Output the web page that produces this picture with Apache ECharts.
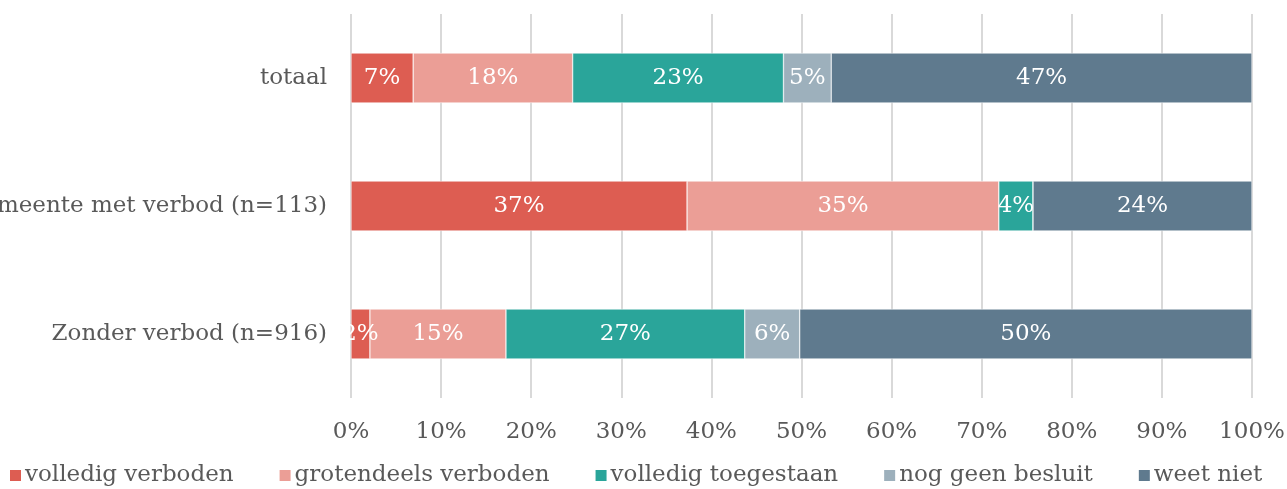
<!DOCTYPE html>
<html><head><meta charset="utf-8">
<script src="https://cdn.jsdelivr.net/npm/echarts@6/dist/echarts.min.js"></script>
<style>html,body{margin:0;padding:0;background:#fff}#c{width:1287px;height:489px}</style>
</head><body><div id="c"></div>
<script>
const categories = ['Zonder verbod (n=916)', 'Gemeente met verbod (n=113)', 'totaal'];
const seriesNames = ['volledig verboden', 'grotendeels verboden', 'volledig toegestaan', 'nog geen besluit', 'weet niet'];
const volledigVerboden = [2.1, 37.3, 6.9];
const grotendeelsVerboden = [15.1, 34.6, 17.7];
const volledigToegestaan = [26.5, 3.8, 23.4];
const nogGeenBesluit = [6.1, 0, 5.3];
const weetNiet = [50.2, 24.3, 46.7];
const colors = ['#dd5d52', '#eb9e96', '#2aa59a', '#9db0bc', '#5f7a8e'];
const tickLabels = ['0%','10%','20%','30%','40%','50%','60%','70%','80%','90%','100%'];

const FONT = 'DejaVu Serif';
const FS = 23;
const values = [volledigVerboden, grotendeelsVerboden, volledigToegestaan, nogGeenBesluit, weetNiet];
const chart = echarts.init(document.getElementById('c'));
chart.setOption({
  animation: false,
  color: colors,
  textStyle: { fontFamily: FONT },
  grid: { left: 351, right: 35, top: 14, bottom: 91, containLabel: false, outerBoundsMode: 'none' },
  xAxis: {
    type: 'value', min: 0, max: 100, interval: 10,
    axisLine: { show: false }, axisTick: { show: false },
    splitLine: { lineStyle: { color: '#d9d9d9', width: 2 } },
    axisLabel: { color: '#595959', fontSize: FS, fontFamily: FONT, margin: 23,
      formatter: v => tickLabels[Math.round(v / 10)] }
  },
  yAxis: {
    type: 'category', data: categories,
    axisLine: { show: false }, axisTick: { show: false },
    axisLabel: { color: '#595959', fontSize: FS, fontFamily: FONT, margin: 24 }
  },
  legend: {
    left: 3, top: 459, itemWidth: 13, itemHeight: 13, itemGap: 44, icon: 'rect',
    textStyle: { color: '#595959', fontSize: FS, fontFamily: FONT, padding: [0,0,0,-2] },
    data: seriesNames
  },
  series: seriesNames.map((n, i) => ({
    name: n, type: 'bar', stack: 'total', barWidth: 50,
    data: values[i],
    itemStyle: { borderColor: '#fff', borderWidth: 0.5 },
    label: { show: true, position: 'inside', color: '#fff', fontSize: FS, fontFamily: FONT,
      formatter: p => p.value > 0 ? Math.round(p.value) + '%' : '' }
  }))
});
</script></body></html>
